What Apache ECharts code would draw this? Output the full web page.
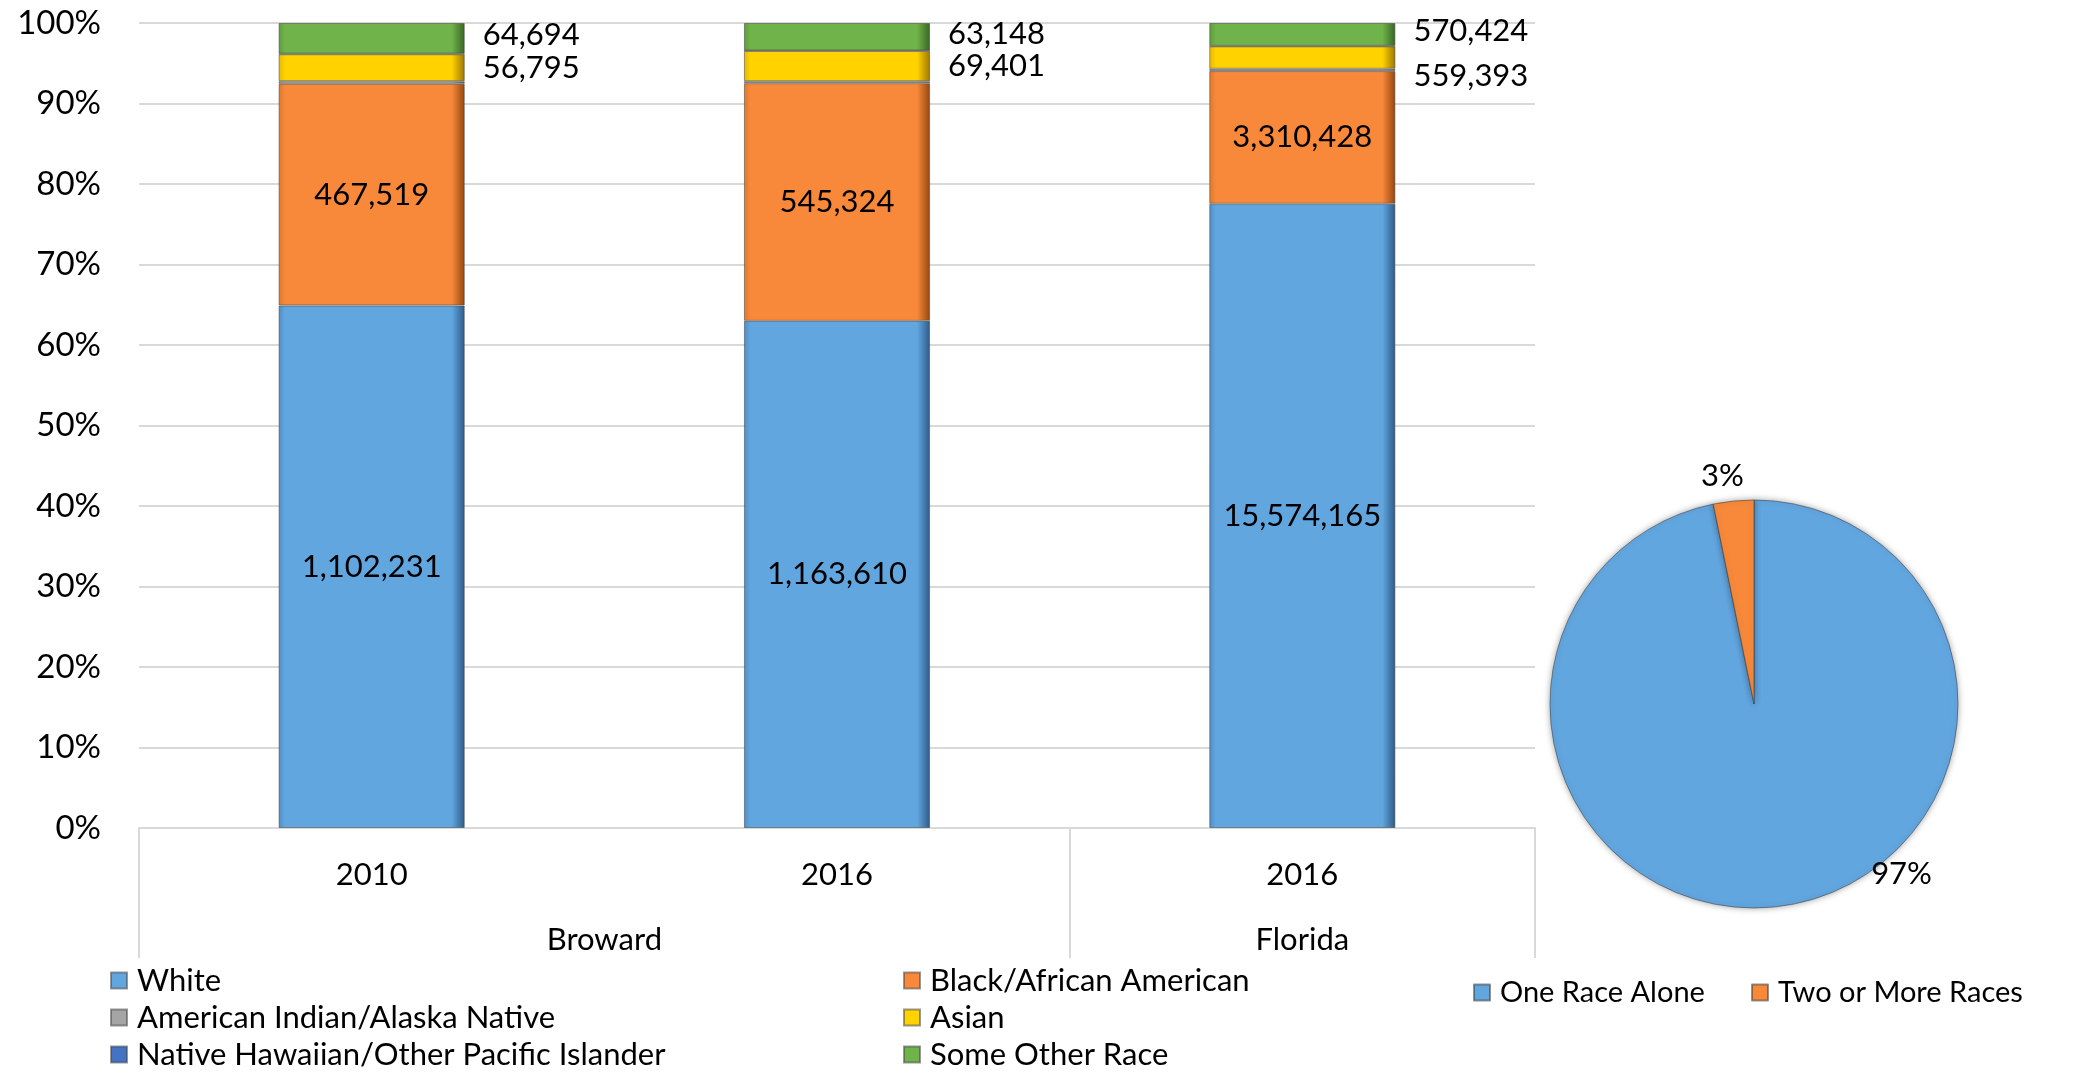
<!DOCTYPE html>
<html><head><meta charset="utf-8">
<script src="https://cdn.jsdelivr.net/npm/echarts@6/dist/echarts.min.js"></script>
<style>html,body{margin:0;padding:0;background:#fff}#c{width:2074px;height:1073px}</style>
</head><body><div id="c"></div>
<script>
// ---- data ----
const years = ['2010', '2016', '2016'];
const groups = ['', '', 'Broward', '', '', 'Florida', ''];
const raceNames = ['White', 'Black/African American', 'American Indian/Alaska Native', 'Asian', 'Native Hawaiian/Other Pacific Islander', 'Some Other Race'];
const white = [1102231, 1163610, 15574165];
const black = [467519, 545324, 3310428];
const amInd = [5700, 4700, 57000];
const asian = [56795, 69401, 559393];
const nhpi = [1200, 900, 12000];
const other = [64694, 63148, 570424];
const pieNames = ['One Race Alone', 'Two or More Races'];
const pieValues = [96.8, 3.2];

// ---- styling ----
const FONT = 'Lato';
const palette = [
  ['#62A6E0', '#2C5B86', '#4f8dc4'],
  ['#F8893A', '#94460F', '#e0762b'],
  ['#A5A5A5', '#5A5A5A', '#8e8e8e'],
  ['#FFD200', '#9C7600', '#e8b800'],
  ['#4472C4', '#1F3763', '#3a62aa'],
  ['#6FB34A', '#386524', '#5e9c3d']
];
function bevel(p) {
  return {
    type: 'linear', x: 0, y: 0, x2: 1, y2: 0,
    colorStops: [
      { offset: 0, color: p[2] }, { offset: 0.035, color: p[0] },
      { offset: 0.93, color: p[0] }, { offset: 1, color: p[1] }
    ]
  };
}
const fmt = v => v.toLocaleString('en-US');
const rawSeries = [white, black, amInd, asian, nhpi, other];
const totals = years.map((_, i) => rawSeries.reduce((s, a) => s + a[i], 0));
const labelPos = ['inside', 'inside', null, 'right', null, 'right'];

const barSeries = rawSeries.map((arr, k) => ({
  name: raceNames[k], type: 'bar', stack: 'race', barWidth: '40%',
  xAxisIndex: 0, yAxisIndex: 0,
  itemStyle: { color: bevel(palette[k]), borderColor: 'rgba(70,70,70,0.55)', borderWidth: 1 },
  label: labelPos[k] ? {
    show: true, position: labelPos[k], distance: 18, fontSize: 31, color: '#000', fontFamily: FONT,
    formatter: p => fmt(arr[p.dataIndex])
  } : { show: false },
  emphasis: { disabled: true },
  data: arr.map((v, i) => {
    const d = { value: v / totals[i] * 100 };
    if (k === 3 && i === 2) d.label = { offset: [0, 18] };
    if (k === 5) d.label = { offset: [0, -3] };
    return d;
  })
}));

const pieOffsets = [[137, 66], [-21, -124]];
const pieColors = ['#62A6E0', '#F8893A'];
const pieSeries = {
  type: 'pie', center: [1754, 704], radius: 204, startAngle: 90,
  emphasis: { disabled: true },
  itemStyle: { borderColor: 'rgba(60,60,60,0.55)', borderWidth: 1, shadowBlur: 6, shadowColor: 'rgba(0,0,0,0.35)' },
  label: { show: true, position: 'inside', fontSize: 31, color: '#000', fontFamily: FONT,
    formatter: p => Math.round(p.percent) + '%' },
  labelLine: { show: false },
  data: pieNames.map((n, i) => ({ name: n, value: pieValues[i], itemStyle: { color: pieColors[i] }, label: { offset: pieOffsets[i] } }))
};

const legendBase = { orient: 'vertical', itemGap: 6, itemWidth: 16, itemHeight: 16, icon: 'rect', padding: 0,
  textStyle: { fontSize: 31, lineHeight: 31, color: '#000', fontFamily: FONT, padding: [0, 0, 0, 5] } };
const pieLegendText = { fontSize: 29, lineHeight: 31, color: '#000', fontFamily: FONT, padding: [0, 0, 0, 5] };

const option = {
  animation: false,
  backgroundColor: '#fff',
  textStyle: { fontFamily: FONT },
  grid: { left: 139, right: 539, top: 23, bottom: 245, containLabel: false },
  xAxis: [
    { type: 'category', data: years, position: 'bottom',
      axisLine: { lineStyle: { color: '#d9d9d9', width: 2 } }, axisTick: { show: false },
      axisLabel: { fontSize: 31, color: '#000', margin: 31, fontFamily: FONT } },
    { type: 'value', min: 0, max: 3, interval: 2, position: 'bottom',
      axisLine: { show: false }, splitLine: { show: false }, axisLabel: { show: false },
      axisTick: { show: true, length: 130, lineStyle: { color: '#d9d9d9', width: 2 } } },
    { type: 'category', data: groups, position: 'bottom', boundaryGap: false,
      axisLine: { show: false }, axisTick: { show: false },
      axisLabel: { interval: 0, fontSize: 31, color: '#000', margin: 96, fontFamily: FONT } }
  ],
  yAxis: { type: 'value', min: 0, max: 100, interval: 10,
    axisLine: { show: false }, axisTick: { show: false },
    axisLabel: { formatter: '{value}%', fontSize: 33, color: '#000', margin: 38, fontFamily: FONT },
    splitLine: { lineStyle: { color: '#d9d9d9', width: 2 } } },
  legend: [
    Object.assign({}, legendBase, { data: [raceNames[0], raceNames[2], raceNames[4]], left: 110, top: 965 }),
    Object.assign({}, legendBase, { data: [raceNames[1], raceNames[3], raceNames[5]], left: 903, top: 965 }),
    Object.assign({}, legendBase, { data: [pieNames[0]], left: 1473, top: 977, textStyle: pieLegendText }),
    Object.assign({}, legendBase, { data: [pieNames[1]], left: 1751, top: 977, textStyle: pieLegendText })
  ],
  series: barSeries.concat([pieSeries])
};
echarts.init(document.getElementById('c')).setOption(option);
</script></body></html>
